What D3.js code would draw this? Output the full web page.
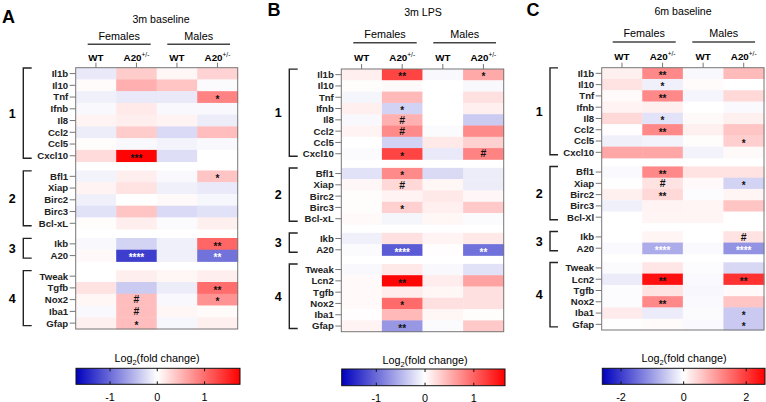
<!DOCTYPE html>
<html><head><meta charset="utf-8">
<script src="https://cdn.jsdelivr.net/npm/d3@7"></script>
<style>body{margin:0;background:#fff}svg{display:block;font-family:Arial,"Liberation Sans",sans-serif}</style>
</head><body><svg id="c" width="766" height="402"></svg>
<script>
// ---------- DATA ----------
const sexes = ["Females", "Males"];
const genotypes = ["WT", "A20", "WT", "A20"];
const panelTitles = ["3m baseline", "3m LPS", "6m baseline"];
const panelLetters = ["A", "B", "C"];
const groupNumbers = ["1", "2", "3", "4"];

const group1Genes = ["Il1b","Il10","Tnf","Ifnb","Il8","Ccl2","Ccl5","Cxcl10"];
const group2GenesAB = ["Bfl1","Xiap","Birc2","Birc3","Bcl-xL"];
const group2GenesC = ["Bfl1","Xiap","Birc2","Birc3","Bcl-Xl"];
const group3Genes = ["Ikb","A20"];
const group4GenesA = ["Tweak","Tgfb","Nox2","Iba1","Gfap"];
const group4GenesBC = ["Tweak","Lcn2","Tgfb","Nox2","Iba1","Gfap"];

// columns: Female WT, Female A20+/-, Male WT, Male A20+/-
const valuesA = [
  [-0.15, 0.35, 0.06, 0.30],
  [ 0.03, 0.55, 0.40,-0.03],
  [-0.10,-0.15,-0.15, 0.85],
  [-0.05, 0.15,-0.05,-0.05],
  [ 0.08, 0.12, 0.08,-0.12],
  [-0.12, 0.35,-0.25, 0.45],
  [ 0.02,-0.05,-0.08,-0.05],
  [ 0.25, 1.72,-0.22, 0.00],
  [-0.08, 0.12,-0.04, 0.40],
  [ 0.08, 0.20,-0.10,-0.15],
  [-0.10, 0.00, 0.04,-0.06],
  [-0.20, 0.40,-0.25,-0.20],
  [ 0.02, 0.12,-0.03, 0.10],
  [-0.05,-0.30,-0.10, 1.05],
  [ 0.04,-1.30,-0.10,-0.95],
  [ 0.00, 0.12, 0.06, 0.12],
  [ 0.20,-0.35,-0.12, 1.00],
  [ 0.06, 0.45,-0.04, 0.75],
  [-0.04, 0.45, 0.06, 0.03],
  [ 0.10, 0.45,-0.06, 0.10]
];
const starsA = [
  ["","","",""],["","","",""],["","","","*"],["","","",""],["","","",""],["","","",""],["","","",""],["","***","",""],
  ["","","","*"],["","","",""],["","","",""],["","","",""],["","","",""],
  ["","","","**"],["","****","","**"],
  ["","","",""],["","","","**"],["","#","","*"],["","#","",""],["","*","",""]
];
const valuesB = [
  [ 0.10, 1.20,-0.04, 0.55],
  [ 0.02, 0.03, 0.00,-0.05],
  [-0.07, 0.45, 0.00, 0.20],
  [ 0.10,-0.30, 0.00, 0.10],
  [-0.05, 0.50, 0.00,-0.35],
  [ 0.08, 0.75,-0.03, 0.75],
  [ 0.00,-0.30, 0.15, 0.30],
  [-0.03, 1.20,-0.15, 0.80],
  [-0.20, 0.75,-0.25,-0.12],
  [ 0.05, 0.25, 0.06,-0.12],
  [ 0.02, 0.08, 0.15, 0.05],
  [ 0.02, 0.30, 0.10, 0.35],
  [ 0.04,-0.07, 0.06,-0.03],
  [-0.10, 0.20, 0.08, 0.15],
  [-0.03,-1.10, 0.01,-0.95],
  [-0.04, 0.15,-0.04,-0.20],
  [ 0.04, 1.60, 0.12, 0.60],
  [ 0.04, 0.12, 0.06, 0.20],
  [ 0.04, 0.95, 0.20, 0.20],
  [ 0.01, 0.45, 0.06, 0.02],
  [ 0.08,-0.70,-0.03, 0.35]
];
const starsB = [
  ["","**","","*"],["","","",""],["","","",""],["","*","",""],["","#","",""],["","#","",""],["","","",""],["","*","","#"],
  ["","*","",""],["","#","",""],["","","",""],["","*","",""],["","","",""],
  ["","","",""],["","****","","**"],
  ["","","",""],["","**","",""],["","","",""],["","*","",""],["","","",""],["","**","",""]
];
const valuesC = [
  [ 0.15, 1.20,-0.07, 0.70],
  [ 0.30,-0.15, 0.04, 0.00],
  [ 0.05, 1.20,-0.10, 0.40],
  [ 0.12, 0.15, 0.00,-0.05],
  [ 0.40,-0.30, 0.05, 0.15],
  [ 0.02, 1.20, 0.15, 0.60],
  [-0.15,-0.12, 0.03, 0.50],
  [ 0.90, 0.90,-0.12, 0.05],
  [-0.05, 1.20, 0.30, 0.30],
  [ 0.01, 0.30, 0.06,-0.45],
  [ 0.15, 0.40,-0.03, 0.10],
  [-0.15, 0.12, 0.10, 0.60],
  [ 0.00, 0.10, 0.10, 0.00],
  [ 0.00, 0.10, 0.00, 0.30],
  [-0.05,-0.85,-0.05,-1.10],
  [-0.04, 0.25,-0.03,-0.40],
  [-0.20, 2.45,-0.05, 2.10],
  [-0.03, 0.30,-0.08, 0.06],
  [-0.03, 1.20,-0.06, 0.60],
  [ 0.20,-0.20,-0.04,-0.55],
  [ 0.01, 0.04,-0.05,-0.55]
];
const starsC = [
  ["","**","",""],["","*","",""],["","**","",""],["","","",""],["","*","",""],["","**","",""],["","","","*"],["","","",""],
  ["","**","",""],["","#","","*"],["","**","",""],["","","",""],["","","",""],
  ["","","","#"],["","****","","****"],
  ["","","",""],["","**","","**"],["","","",""],["","**","",""],["","","","*"],["","","","*"]
];
const colorbarDomainA = [-1.72, 1.75];
const colorbarDomainB = [-1.71, 1.64];
const colorbarDomainC = [-2.6, 2.6];
const colorbarTicksA = [-1, 0, 1];
const colorbarTicksB = [-1, 0, 1];
const colorbarTicksC = [-2, 0, 2];

// ---------- LAYOUT ----------
const layouts = [
  {letterX:2, letterY:23, titleX:161, titleY:23, sexY:40, lineY:44.3, fem:[87.7,150.7], mal:[167.3,230], colY:60.5,
   left:75.7, right:237.7, top:67.7, bottom:329, brX:23.3, brEnd:31.7, numX:12.3,
   cb:{x0:76, x1:240, y0:368.3, y1:384.3, labX:157, labY:362, tickY:401}},
  {letterX:267.5, letterY:15.5, titleX:423, titleY:15.5, sexY:38.2, lineY:42.7, fem:[353.3,416.7], mal:[433.3,496], colY:60.8,
   left:341.3, right:503.7, top:69, bottom:331.7, brX:289.3, brEnd:297.7, numX:278.3,
   cb:{x0:341.7, x1:505, y0:369, y1:385.7, labX:425, labY:363.5, tickY:401.5}},
  {letterX:526.5, letterY:15.5, titleX:683, titleY:15.2, sexY:37.3, lineY:42, fem:[612.7,675.7], mal:[692.3,755], colY:59.6,
   left:601.7, right:764, top:67.7, bottom:330, brX:550, brEnd:558, numX:539.3,
   cb:{x0:602.3, x1:765, y0:368.3, y1:384.3, labX:684, labY:362, tickY:401}}
];

const panels = [
  {groups:[group1Genes, group2GenesAB, group3Genes, group4GenesA], values:valuesA, stars:starsA, dom:colorbarDomainA, ticks:colorbarTicksA},
  {groups:[group1Genes, group2GenesAB, group3Genes, group4GenesBC], values:valuesB, stars:starsB, dom:colorbarDomainB, ticks:colorbarTicksB},
  {groups:[group1Genes, group2GenesC, group3Genes, group4GenesBC], values:valuesC, stars:starsC, dom:colorbarDomainC, ticks:colorbarTicksC}
];

const BLUE = "rgb(0,0,190)", WHITE = "#ffffff", RED = "rgb(255,0,0)";
const svg = d3.select("#c");
const defs = svg.append("defs");
const GAP = 0.75;

panels.forEach((p, pi) => {
  const L = layouts[pi];
  const g = svg.append("g");
  const color = d3.scaleLinear().domain([p.dom[0], 0, p.dom[1]]).range([BLUE, WHITE, RED]).clamp(true);

  // rows with gaps
  const rows = [];
  let u = 0;
  p.groups.forEach((genes, gi) => {
    genes.forEach(gn => { rows.push({gene: gn, u0: u, group: gi}); u += 1; });
    if (gi < p.groups.length - 1) u += GAP;
  });
  const y = d3.scaleLinear().domain([0, u]).range([L.top, L.bottom]);
  const x = d3.scaleBand().domain(d3.range(genotypes.length)).range([L.left, L.right]);

  // letter / title
  g.append("text").attr("x", L.letterX).attr("y", L.letterY).attr("font-size", 18).attr("font-weight", "bold").text(panelLetters[pi]);
  g.append("text").attr("x", L.titleX).attr("y", L.titleY).attr("text-anchor", "middle").attr("font-size", 10.6).text(panelTitles[pi]);

  // sex labels and lines
  [L.fem, L.mal].forEach((r, si) => {
    g.append("text").attr("x", (r[0] + r[1]) / 2).attr("y", L.sexY).attr("text-anchor", "middle").attr("font-size", 10.8).text(sexes[si]);
    g.append("line").attr("x1", r[0]).attr("x2", r[1]).attr("y1", L.lineY).attr("y2", L.lineY).attr("stroke", "#444").attr("stroke-width", 1.6);
  });

  // column headers + ticks
  genotypes.forEach((gt, j) => {
    const cx = x(j) + x.bandwidth() / 2;
    const t = g.append("text").attr("x", cx).attr("y", L.colY).attr("text-anchor", "middle").attr("font-size", 9.8).attr("font-weight", "bold");
    t.append("tspan").text(gt);
    if (gt === "A20") t.append("tspan").attr("dy", -4).attr("font-size", 6.5).attr("font-weight", "normal").text("+/-");
    g.append("line").attr("x1", cx).attr("x2", cx).attr("y1", L.top - 5).attr("y2", L.top).attr("stroke", "#777").attr("stroke-width", 1);
  });

  // cells
  rows.forEach((r, i) => {
    const y0 = y(r.u0), y1 = y(r.u0 + 1);
    p.values[i].forEach((v, j) => {
      g.append("rect").attr("x", x(j)).attr("y", y0).attr("width", x.bandwidth() + 0.4).attr("height", y1 - y0 + 0.4)
        .attr("fill", color(v));
      const s = p.stars[i][j];
      if (s) {
        const isStar = s.indexOf("*") >= 0;
        g.append("text").attr("x", x(j) + x.bandwidth() / 2).attr("y", (y0 + y1) / 2 + (isStar ? 5.8 : 3.7))
          .attr("text-anchor", "middle").attr("font-size", isStar ? 10 : 10.5).attr("font-weight", "bold")
          .attr("fill", r.gene === "A20" ? "#fff" : "#111").text(s);
      }
    });
    // row label + tick
    const cy = (y0 + y1) / 2;
    g.append("line").attr("x1", L.left - 6).attr("x2", L.left).attr("y1", cy).attr("y2", cy).attr("stroke", "#777").attr("stroke-width", 1);
    g.append("text").attr("x", L.left - 7.5).attr("y", cy + 3.4).attr("text-anchor", "end").attr("font-size", 9.6).attr("font-weight", "bold").attr("fill", "#222").text(r.gene);
  });

  // border
  g.append("rect").attr("x", L.left).attr("y", L.top).attr("width", L.right - L.left).attr("height", L.bottom - L.top)
    .attr("fill", "none").attr("stroke", "#777").attr("stroke-width", 1);

  // group brackets
  p.groups.forEach((genes, gi) => {
    const first = rows.find(r => r.group === gi), last = rows.filter(r => r.group === gi).pop();
    const yt = y(first.u0 + 0.5) - 5.5, yb = y(last.u0 + 0.5) + 2.5;
    g.append("path").attr("d", `M${L.brEnd},${yt}H${L.brX}V${yb}H${L.brEnd}`).attr("fill", "none").attr("stroke", "#222").attr("stroke-width", 1.4);
    g.append("text").attr("x", L.numX).attr("y", (yt + yb) / 2 + 4.5).attr("text-anchor", "middle").attr("font-size", 12.5).attr("font-weight", "bold").text(groupNumbers[gi]);
  });

  // colorbar
  const cb = L.cb;
  const cx = d3.scaleLinear().domain(p.dom).range([cb.x0, cb.x1]);
  const grad = defs.append("linearGradient").attr("id", "grad" + pi).attr("x1", "0%").attr("x2", "100%").attr("y1", "0%").attr("y2", "0%");
  const offs = d3.range(0, 1.0001, 0.05).concat([(0 - p.dom[0]) / (p.dom[1] - p.dom[0])]).sort((a, b) => a - b);
  offs.forEach(t => {
    const v = p.dom[0] + t * (p.dom[1] - p.dom[0]);
    grad.append("stop").attr("offset", (t * 100) + "%").attr("stop-color", color(v));
  });
  g.append("rect").attr("x", cb.x0).attr("y", cb.y0).attr("width", cb.x1 - cb.x0).attr("height", cb.y1 - cb.y0)
    .attr("fill", `url(#grad${pi})`).attr("stroke", "#111").attr("stroke-width", 1);
  p.ticks.forEach(tv => {
    const tx = cx(tv);
    g.append("line").attr("x1", tx).attr("x2", tx).attr("y1", cb.y0).attr("y2", cb.y0 + 3).attr("stroke", "#111");
    g.append("line").attr("x1", tx).attr("x2", tx).attr("y1", cb.y1 - 3).attr("y2", cb.y1).attr("stroke", "#111");
    g.append("text").attr("x", tx).attr("y", cb.tickY).attr("text-anchor", "middle").attr("font-size", 10.8).text(tv < 0 ? "-" + Math.abs(tv) : tv);
  });
  const lab = g.append("text").attr("x", cb.labX).attr("y", cb.labY).attr("text-anchor", "middle").attr("font-size", 10.8);
  lab.append("tspan").text("Log");
  lab.append("tspan").attr("dy", 3).attr("font-size", 7.5).text("2");
  lab.append("tspan").attr("dy", -3).text("(fold change)");
});
</script></body></html>
